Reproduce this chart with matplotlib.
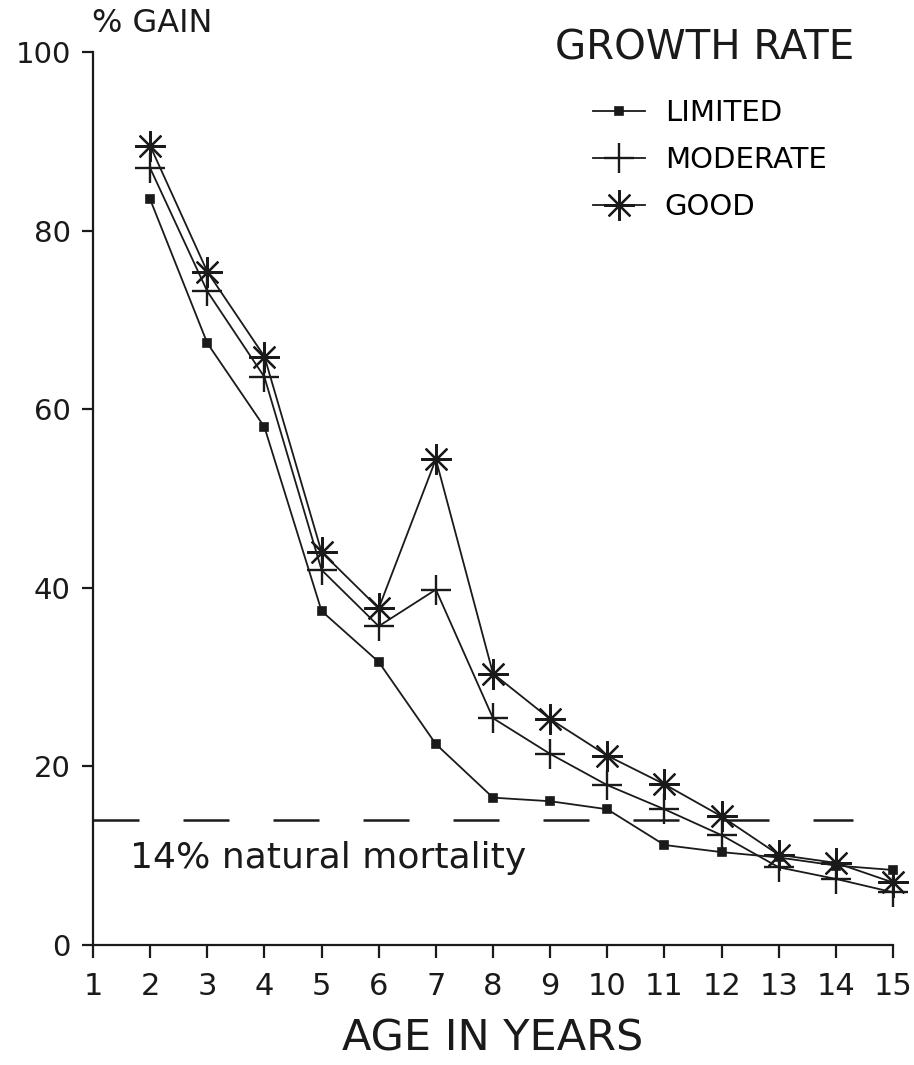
import matplotlib
matplotlib.use("Agg")
import matplotlib.pyplot as plt

# ages and % gain
ages = [2, 3, 4, 5, 6, 7, 8, 9, 10, 11, 12, 13, 14, 15]
limited = [83.5, 67.4, 58.0, 37.4, 31.7, 22.5, 16.5, 16.1, 15.2, 11.2, 10.4, 9.8, 8.9, 8.4]
moderate = [87.0, 73.2, 63.6, 42.0, 35.7, 39.8, 25.4, 21.4, 17.9, 15.2, 12.3, 8.7, 7.4, 5.9]
good = [89.5, 75.4, 65.9, 44.0, 37.7, 54.4, 30.4, 25.3, 21.2, 18.0, 14.4, 10.1, 9.2, 7.0]
series_names = ["LIMITED", "MODERATE", "GOOD"]
mortality = 14
x_ticks = list(range(1, 16))
y_ticks = [0, 20, 40, 60, 80, 100]

ink = "#1a1a1a"
plt.rcParams["font.family"] = ["DejaVu Sans"]

fig = plt.figure(figsize=(9.14, 10.65), dpi=100)
ax = fig.add_axes([93 / 914, 1 - 945 / 1065, 800 / 914, 893 / 1065])

#plot the three growth rate series
l1, = ax.plot(ages, limited, color=ink, lw=1.3, marker="s", ms=6, mew=1.2,
              mfc=ink, mec=ink, clip_on=False)
l2, = ax.plot(ages, moderate, color=ink, lw=1.3, marker="+", ms=22, mew=1.7,
              mec=ink, clip_on=False)
l3, = ax.plot(ages, good, color=ink, lw=1.3, marker=(8, 2, 0), ms=22, mew=1.6,
              mec=ink, clip_on=False)

#natural mortality line
ax.plot([1, 14.3], [mortality, mortality], color=ink, lw=1.8,
        dashes=(18.4, 17.6), clip_on=False)
ax.text(1.65, mortality - 4.3, "14% natural mortality", fontsize=26,
        color=ink, ha="left", va="center")

#axes
ax.set_xlim(1, 15)
ax.set_ylim(0, 100)
ax.set_xticks(x_ticks)
ax.set_yticks(y_ticks)
for s in ["top", "right"]:
    ax.spines[s].set_visible(False)
for s in ["left", "bottom"]:
    ax.spines[s].set_linewidth(1.6)
    ax.spines[s].set_color(ink)
ax.tick_params(axis="y", length=8, width=1.6, pad=8, labelsize=21, colors=ink)
ax.tick_params(axis="x", length=9.5, width=1.6, pad=10, labelsize=22, colors=ink)
ax.set_xlabel("AGE IN YEARS", fontsize=31, color=ink, labelpad=12)

fig.text(92 / 914, 1 - 24 / 1065, "% GAIN", fontsize=23, color=ink,
         ha="left", va="center")

#legend
fig.text(705 / 914, 1 - 49 / 1065, "GROWTH RATE", fontsize=29, color=ink,
         ha="center", va="center")
ax.legend([l1, l2, l3], series_names, loc="upper left",
          bbox_to_anchor=(593 / 914, 1 - 99 / 1065), bbox_transform=fig.transFigure,
          frameon=False, fontsize=21, handlelength=1.78, handletextpad=0.68,
          labelspacing=0.65, borderpad=0, borderaxespad=0)

fig.savefig("out.png", dpi=100)
